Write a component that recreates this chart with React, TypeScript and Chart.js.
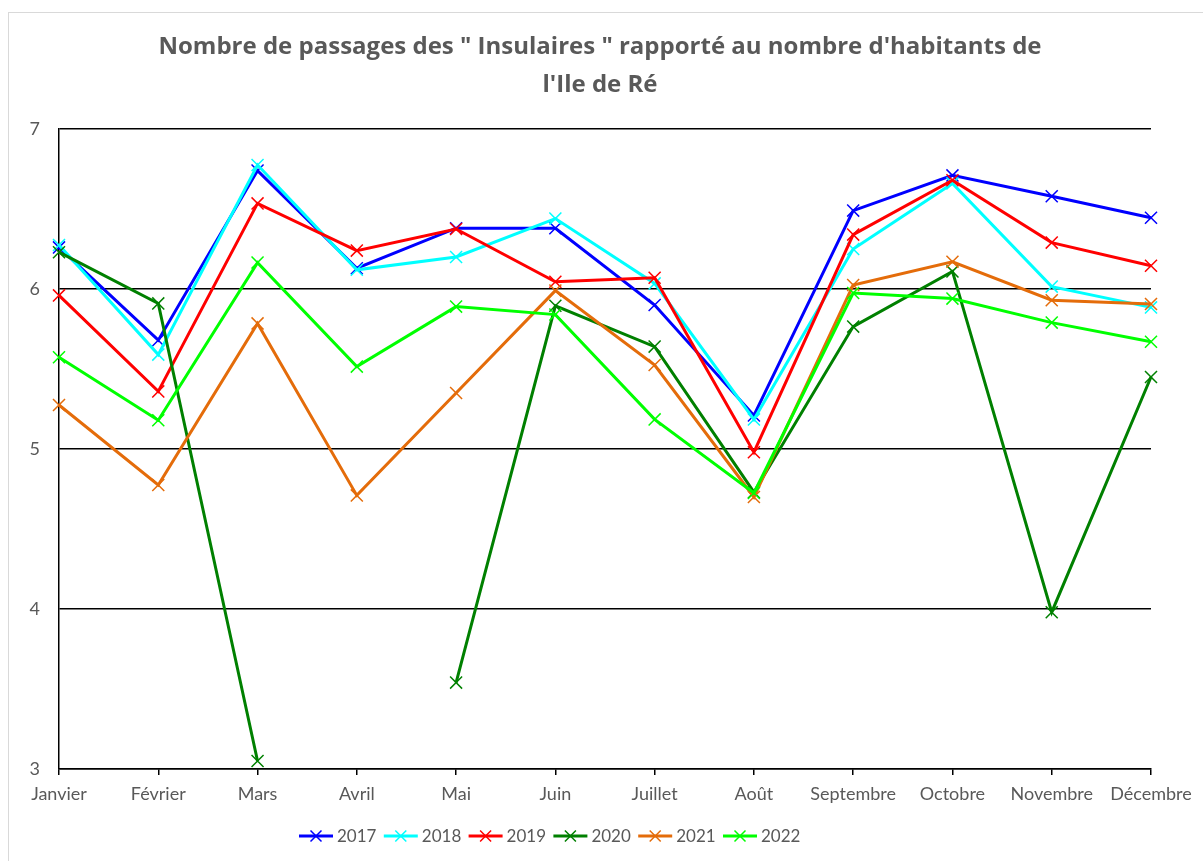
import React, { useEffect, useRef } from "react";
import { Chart, registerables } from "chart.js";

Chart.register(...registerables);

const months = [
  "Janvier", "Février", "Mars", "Avril", "Mai", "Juin",
  "Juillet", "Août", "Septembre", "Octobre", "Novembre", "Décembre",
];

const years = ["2017", "2018", "2019", "2020", "2021", "2022"];

const s2017 = [6.26, 5.68, 6.74, 6.13, 6.38, 6.38, 5.9, 5.21, 6.49, 6.71, 6.58, 6.445];
const s2018 = [6.275, 5.59, 6.775, 6.12, 6.2, 6.44, 6.035, 5.185, 6.25, 6.66, 6.015, 5.885];
const s2019 = [5.96, 5.36, 6.535, 6.24, 6.375, 6.045, 6.07, 4.98, 6.34, 6.68, 6.29, 6.145];
const s2020 = [6.23, 5.91, 3.05, null, 3.54, 5.895, 5.64, 4.73, 5.765, 6.11, 3.98, 5.45];
const s2021 = [5.275, 4.775, 5.785, 4.71, 5.35, 5.99, 5.525, 4.70, 6.025, 6.17, 5.93, 5.906];
const s2022 = [5.573, 5.18, 6.165, 5.515, 5.89, 5.84, 5.185, 4.725, 5.975, 5.94, 5.79, 5.67];

const seriesValues = [s2017, s2018, s2019, s2020, s2021, s2022];
const colors = ["#0000FF", "#00FFFF", "#FF0000", "#008000", "#E46C0A", "#00FF00"];

const titleLines = [
  "Nombre de passages des \" Insulaires \" rapporté au nombre d'habitants de",
  "l'Ile de Ré",
];

const yTicks = [3, 4, 5, 6, 7];

const TEXT = "#595959";
const FONT = "Lato, 'Open Sans', sans-serif";
const TITLE_FONT = "'Open Sans', Lato, sans-serif";

const titleLegendPlugin = {
  id: "titleLegend",
  afterDraw(chart: any) {
    const ctx = chart.ctx;
    ctx.save();
    ctx.fillStyle = TEXT;
    ctx.font = `bold 24px ${TITLE_FONT}`;
    ctx.textAlign = "center";
    ctx.textBaseline = "middle";
    ctx.fillText(titleLines[0], 600, 47);
    ctx.fillText(titleLines[1], 600, 85);

    // legend
    const startX = 299;
    const step = 84.8;
    const y = 836;
    ctx.font = `17px ${FONT}`;
    ctx.textAlign = "left";
    chart.data.datasets.forEach((ds: any, i: number) => {
      const x = startX + i * step;
      ctx.strokeStyle = ds.borderColor;
      ctx.lineWidth = 3;
      ctx.beginPath();
      ctx.moveTo(x, y);
      ctx.lineTo(x + 34, y);
      ctx.stroke();
      ctx.lineWidth = 1.5;
      const cx = x + 17;
      const r = 5.5;
      ctx.beginPath();
      ctx.moveTo(cx - r, y - r);
      ctx.lineTo(cx + r, y + r);
      ctx.moveTo(cx - r, y + r);
      ctx.lineTo(cx + r, y - r);
      ctx.stroke();
      ctx.fillStyle = TEXT;
      ctx.fillText(ds.label, x + 38, y + 1);
    });
    ctx.restore();
  },
};

export default function App() {
  const ref = useRef<HTMLCanvasElement | null>(null);

  useEffect(() => {
    if (!ref.current) return;
    const datasets = years.map((yr, i) => ({
      label: yr,
      data: seriesValues[i],
      borderColor: colors[i],
      backgroundColor: colors[i],
      borderWidth: 3,
      pointStyle: "crossRot",
      pointRadius: 8.5,
      pointBorderWidth: 1.5,
      pointBorderColor: colors[i],
      tension: 0,
      spanGaps: false,
      order: years.length - i,
    }));

    const chart = new Chart(ref.current, {
      type: "line",
      data: { labels: months, datasets },
      plugins: [titleLegendPlugin],
      options: {
        animation: false,
        responsive: false,
        layout: { padding: { left: 0, right: 52, top: 129, bottom: 0 } },
        plugins: {
          legend: { display: false },
          title: { display: false },
          tooltip: { enabled: false },
        },
        scales: {
          x: {
            type: "category",
            offset: false,
            afterFit: (scale: any) => {
              scale.height = 92;
            },
            grid: {
              drawOnChartArea: false,
              drawTicks: true,
              tickLength: 6,
              color: "#000",
              lineWidth: 1.5,
            },
            border: { display: true, color: "#000", width: 1.5 },
            ticks: {
              color: TEXT,
              font: { family: FONT, size: 18 },
              padding: 8,
              maxRotation: 0,
              autoSkip: false,
            },
          },
          y: {
            min: 3,
            max: 7,
            afterFit: (scale: any) => {
              scale.width = 59;
            },
            afterBuildTicks: (scale: any) => {
              scale.ticks = yTicks.map((v) => ({ value: v }));
            },
            grid: {
              drawTicks: false,
              tickLength: 0,
              color: "#000",
              lineWidth: 1.5,
            },
            border: { display: true, color: "#000", width: 1.5 },
            ticks: {
              color: TEXT,
              font: { family: FONT, size: 18 },
              padding: 19,
            },
          },
        },
      },
    } as any);
    return () => chart.destroy();
  }, []);

  return (
    <div
      style={{
        position: "fixed",
        left: 0,
        top: 0,
        width: 1203,
        height: 861,
        overflow: "hidden",
        background: "#fff",
      }}
    >
      <div
        style={{
          position: "absolute",
          left: 8,
          top: 12,
          width: 1400,
          height: 1000,
          border: "1px solid #d9d9d9",
        }}
      />
      <canvas
        ref={ref}
        width={1203}
        height={861}
        style={{ position: "absolute", left: 0, top: 0, width: 1203, height: 861 }}
      />
    </div>
  );
}
